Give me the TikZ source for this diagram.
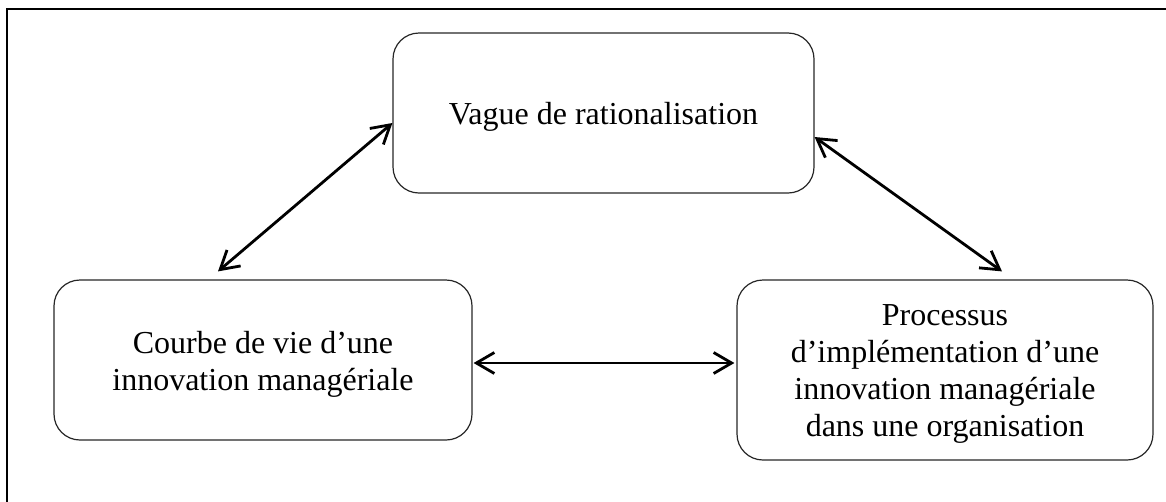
\documentclass[tikz,border=0pt]{standalone}
\usepackage{fontspec}
\setmainfont{Liberation Serif}
\usetikzlibrary{arrows.meta,calc}
\tikzset{
  boxnode/.style={draw=black!85, line width=1.2pt, rounded corners=26pt, inner sep=0pt},
  boxtext/.style={align=center, font=\fontsize{32}{37}\selectfont, inner sep=0pt},
  link/.style={line width=2.8pt, {Straight Barb[length=18pt,width=21pt,line width=2.8pt]}-{Straight Barb[length=18pt,width=21pt,line width=2.8pt]}}
}
\begin{document}
\begin{tikzpicture}[x=1pt,y=-1pt]
\useasboundingbox (0,0) rectangle (1166,501);
\draw[line width=1.5pt] (7,520) -- (7,9) -- (1180,9);
\node[boxnode, minimum width=421pt, minimum height=160pt] (top) at (603.5,113) {};
\node[boxnode, minimum width=418pt, minimum height=160pt] (left) at (263,360) {};
\node[boxnode, minimum width=416pt, minimum height=180pt] (right) at (945,370) {};
\node[boxtext] (toptext) at ($(top.center)+(0,4)$) {Vague de rationalisation};
\node[boxtext] (lefttext) at ($(left.center)+(0,4)$) {Courbe de vie d’une\\innovation managériale};
\node[boxtext] (righttext) at ($(right.center)+(0,4)$) {Processus\\d’implémentation d’une\\innovation managériale\\dans une organisation};
\draw[link] ($(left.north)+(-45,-8)$) -- ($(top.west)+(0,10)$);
\draw[link] ($(top.east)+(0,24)$) -- ($(right.north)+(57,-8)$);
\draw[link] ($(left.east)+(1,3)$) -- ($(right.west)+(-2,-7)$);
\end{tikzpicture}
\end{document}
